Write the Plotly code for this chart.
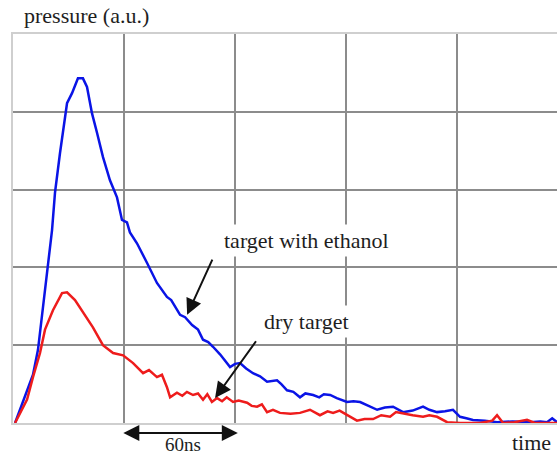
import plotly.graph_objects as go

# time in ns, pressure in arbitrary units (one grid cell = 60 ns x 1 a.u.)
blue_t = [1.1, 10.8, 13.5, 18.9, 21.1, 22.7, 25.4, 29.2, 31.9, 35.1, 37.8, 40.0, 42.7, 45.4,
          48.6, 52.4, 56.2, 58.9, 61.6, 63.2, 67.0, 72.4, 77.8, 83.2, 85.5, 90.3, 93.0, 96.8,
          100.0, 102.7, 105.5, 108.1, 112.0, 117.3, 120.0, 122.7, 126.0, 129.7, 133.5, 137.3,
          142.7, 145.0, 148.1, 151.5, 155.1, 158.0, 162.2, 165.5, 168.0, 171.4, 175.0, 180.5,
          184.0, 187.6, 192.0, 196.8, 201.0, 205.4, 210.8, 216.0, 221.6, 225.0, 229.2, 233.5,
          237.8, 241.6, 245.0, 248.6, 255.0, 261.6, 270.0, 279.5, 285.0, 288.6, 291.4, 294.0]
blue_p = [0.00, 0.62, 0.94, 2.06, 2.48, 2.96, 3.47, 4.11, 4.24, 4.43, 4.43, 4.32, 3.98, 3.73,
          3.42, 3.12, 2.90, 2.61, 2.58, 2.45, 2.31, 2.06, 1.80, 1.62, 1.58, 1.39, 1.36, 1.26,
          1.20, 1.07, 1.04, 0.98, 0.88, 0.72, 0.76, 0.77, 0.70, 0.64, 0.60, 0.53,
          0.55, 0.50, 0.42, 0.40, 0.33, 0.38, 0.36, 0.33, 0.37, 0.36, 0.32, 0.27,
          0.28, 0.27, 0.22, 0.17, 0.20, 0.21, 0.14, 0.16, 0.21, 0.17, 0.14, 0.15,
          0.17, 0.08, 0.06, 0.04, 0.03, 0.01, 0.02, 0.01, 0.02, 0.01, 0.06, 0.01]

red_t = [1.1, 7.6, 10.8, 14.6, 17.3, 21.6, 26.5, 29.2, 33.5, 37.8, 43.2, 48.6, 54.1, 59.5,
         64.9, 70.3, 73.5, 77.8, 80.5, 83.2, 84.9, 88.6, 91.5, 94.0, 97.3, 100.0, 102.7, 105.0,
         107.5, 110.3, 113.0, 115.5, 118.9, 122.0, 126.5, 129.0, 131.9, 134.5, 137.3, 140.5,
         144.3, 150.0, 155.1, 160.5, 165.9, 170.0, 173.0, 176.5, 180.5, 185.9, 190.0, 194.6,
         199.0, 203.8, 207.0, 210.8, 216.0, 221.6, 225.0, 229.2, 234.6, 241.6, 252.4, 259.0,
         261.6, 264.9, 271.0, 277.8, 282.0, 288.6, 294.0]
red_p = [0.00, 0.30, 0.59, 0.90, 1.20, 1.45, 1.67, 1.68, 1.58, 1.43, 1.23, 1.00, 0.90, 0.87,
         0.77, 0.64, 0.68, 0.59, 0.62, 0.46, 0.33, 0.39, 0.35, 0.40, 0.36, 0.38, 0.30, 0.37,
         0.27, 0.32, 0.28, 0.33, 0.27, 0.29, 0.26, 0.22, 0.21, 0.24, 0.14, 0.17,
         0.13, 0.12, 0.13, 0.17, 0.10, 0.15, 0.13, 0.16, 0.10, 0.03, 0.05, 0.05,
         0.10, 0.08, 0.14, 0.12, 0.10, 0.08, 0.10, 0.08, 0.01, 0.00, 0.00, 0.03,
         0.10, 0.00, 0.01, 0.04, 0.00, 0.00, 0.00]

label_ethanol = "target with ethanol"
label_dry = "dry target"
label_y = "pressure (a.u.)"
label_x = "time"
label_scale = "60ns"

FONT = "Liberation Serif"
TXT = "#1e1e1e"

fig = go.Figure()
fig.add_trace(go.Scatter(x=blue_t, y=blue_p, mode="lines",
                         line=dict(color="#0a14e6", width=2.5), showlegend=False))
fig.add_trace(go.Scatter(x=red_t, y=red_p, mode="lines",
                         line=dict(color="#ee1c1c", width=2.5), showlegend=False))

ann = []
# arrows
ann.append(dict(x=94.1, y=1.39, ax=108.1, ay=2.12, xref="x", yref="y", axref="x", ayref="y",
                text="", showarrow=True, arrowhead=2, arrowsize=1.6, arrowwidth=2, arrowcolor="#111"))
ann.append(dict(x=109.2, y=0.32, ax=131.9, ay=1.07, xref="x", yref="y", axref="x", ayref="y",
                text="", showarrow=True, arrowhead=2, arrowsize=1.6, arrowwidth=2, arrowcolor="#111"))
# labels with white boxes (cover grid)
ann.append(dict(x=158.4, y=2.35, xref="x", yref="y", text=label_ethanol, showarrow=False,
                font=dict(family=FONT, size=22, color=TXT), bgcolor="white", borderpad=3))
ann.append(dict(x=158.4, y=1.305, xref="x", yref="y", text=label_dry, showarrow=False,
                font=dict(family=FONT, size=22, color=TXT), bgcolor="white", borderpad=3))
# scale bar (double-headed arrow below the axis)
ann.append(dict(x=121.5, y=-0.026, xref="x", yref="paper", ax=-116, ay=0,
                axref="pixel", ayref="pixel",
                text="", showarrow=True, arrowhead=2, arrowside="end+start", arrowsize=1.6,
                arrowwidth=2, arrowcolor="#111"))
ann.append(dict(x=92.0, y=-0.055, xref="x", yref="paper", yanchor="middle", text=label_scale,
                showarrow=False, font=dict(family=FONT, size=19, color=TXT)))
ann.append(dict(x=1.0, y=-0.05, xref="paper", yref="paper", xanchor="right", yanchor="middle",
                text=label_x, showarrow=False, font=dict(family=FONT, size=22, color=TXT),
                xshift=-4))
ann.append(dict(x=0.017, y=1.047, xref="paper", yref="paper", xanchor="left", yanchor="middle",
                text=label_y, showarrow=False, font=dict(family=FONT, size=22, color=TXT)))

fig.update_layout(
    width=557, height=457,
    margin=dict(l=13, r=0, t=34, b=34),
    paper_bgcolor="white", plot_bgcolor="white",
    annotations=ann,
    xaxis=dict(range=[0, 294], dtick=60, tick0=0, showgrid=True, gridcolor="#8c8c8c",
               gridwidth=2, showticklabels=False, ticks="", zeroline=False,
               showline=True, linecolor="#cfcfcf", linewidth=2, mirror=True, fixedrange=True),
    yaxis=dict(range=[0, 5], dtick=1, tick0=0, showgrid=True, gridcolor="#8c8c8c",
               gridwidth=2, showticklabels=False, ticks="", zeroline=False,
               showline=True, linecolor="#cfcfcf", linewidth=2, mirror=False, fixedrange=True),
)

fig.write_html("out.html", config={"displayModeBar": False})
